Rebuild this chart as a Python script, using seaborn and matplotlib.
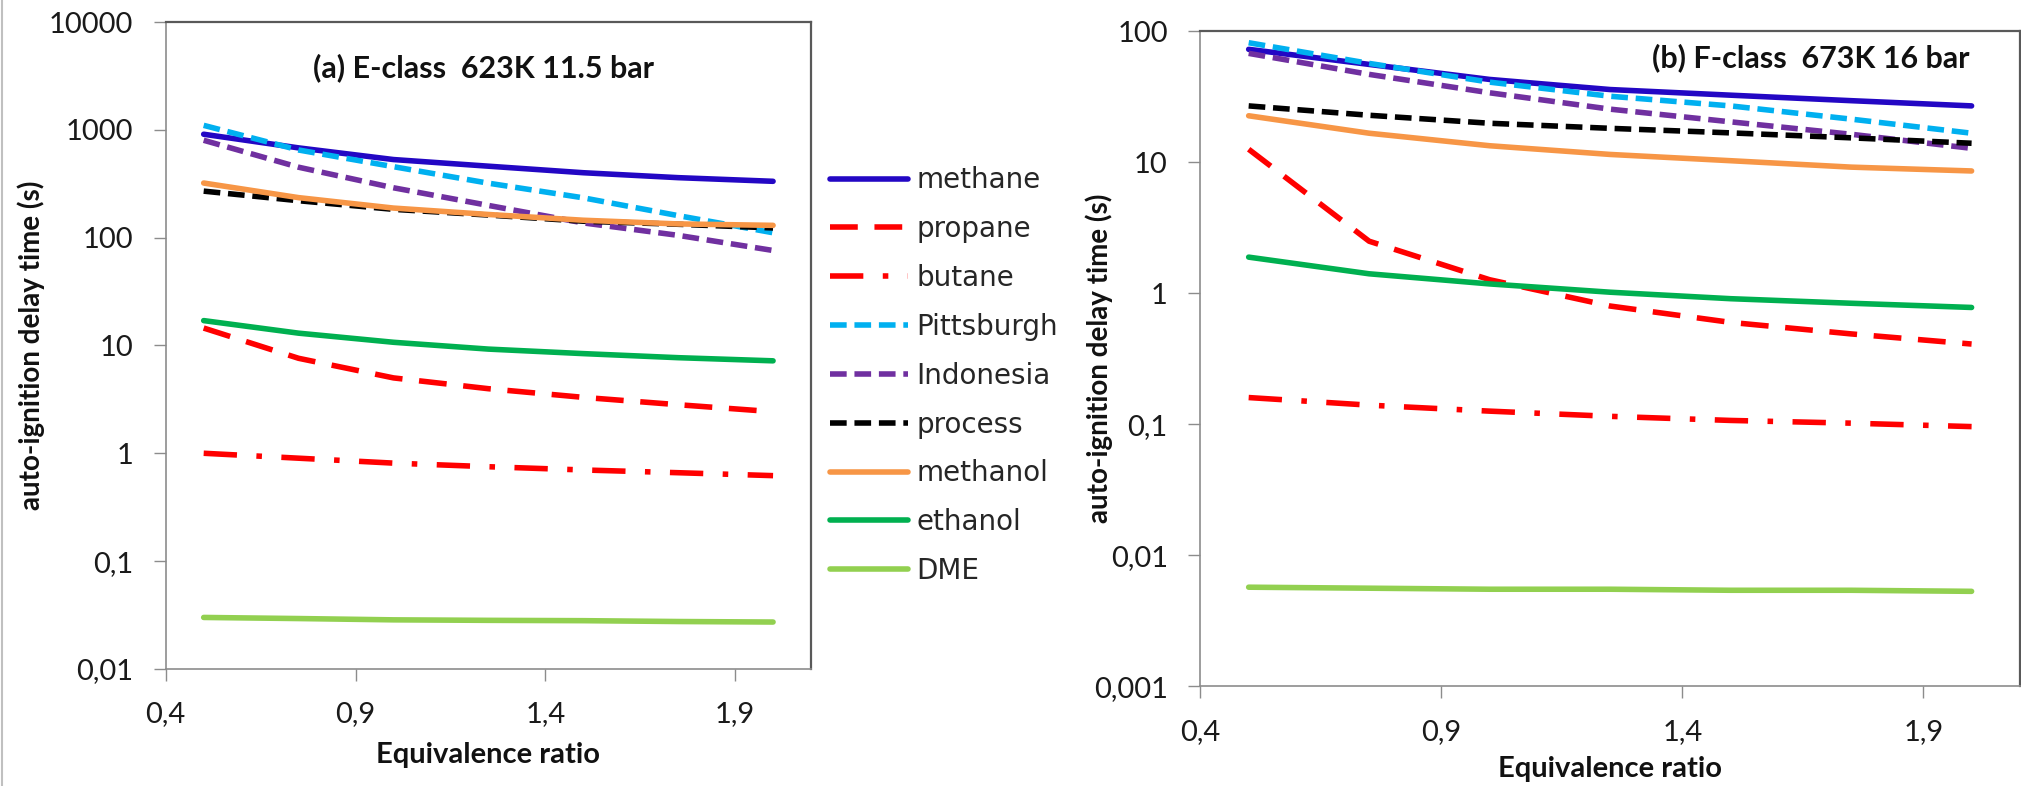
import numpy as np
import pandas as pd
import matplotlib
matplotlib.use("Agg")
import matplotlib.pyplot as plt
import seaborn as sns
from matplotlib.ticker import FixedLocator, FuncFormatter, NullLocator
from matplotlib.lines import Line2D

sns.set_theme(style="white")
plt.rcParams["font.family"] = ["Lato", "DejaVu Sans"]

# ── Data ──────────────────────────────────────────────────────────────────────
PHI = [0.5, 0.75, 1.0, 1.25, 1.5, 1.75, 2.0]
FUELS = ["methane", "propane", "butane", "Pittsburgh", "Indonesia",
         "process", "methanol", "ethanol", "DME"]

# (a) E-class 623 K, 11.5 bar
TAU_A = {
    "methane":    [910, 680, 530, 460, 400, 360, 333],
    "propane":    [14.5, 7.6, 5.0, 3.97, 3.3, 2.82, 2.43],
    "butane":     [1.0, 0.90, 0.81, 0.75, 0.70, 0.66, 0.62],
    "Pittsburgh": [1100, 650, 455, 320, 234, 160, 111],
    "Indonesia":  [800, 450, 290, 199, 137, 105, 76],
    "process":    [270, 220, 183, 162, 142, 133, 123],
    "methanol":   [321, 235, 188, 164, 145, 134, 130],
    "ethanol":    [17, 13, 10.7, 9.25, 8.4, 7.7, 7.2],
    "DME":        [0.030, 0.0293, 0.0285, 0.0282, 0.028, 0.0275, 0.0272],
}

# (b) F-class 673 K, 16 bar
TAU_B = {
    "methane":    [73, 56, 43, 36, 32.6, 29.6, 27],
    "propane":    [12.6, 2.5, 1.27, 0.80, 0.60, 0.49, 0.41],
    "butane":     [0.16, 0.14, 0.126, 0.115, 0.107, 0.102, 0.096],
    "Pittsburgh": [82, 57, 41, 32, 27, 21.4, 16.7],
    "Indonesia":  [68, 47, 34, 25.5, 20.4, 16.4, 12.8],
    "process":    [27, 22.9, 19.9, 18.2, 16.8, 15.4, 14],
    "methanol":   [22.7, 16.7, 13.4, 11.5, 10.3, 9.2, 8.6],
    "ethanol":    [1.89, 1.41, 1.18, 1.02, 0.91, 0.84, 0.78],
    "DME":        [0.0057, 0.0056, 0.0055, 0.0055, 0.0054, 0.0054, 0.0053],
}

COLORS = {
    "methane": "#2307c4", "propane": "#ff0000", "butane": "#ff0000",
    "Pittsburgh": "#00b0f0", "Indonesia": "#7030a0", "process": "#000000",
    "methanol": "#f79646", "ethanol": "#00b050", "DME": "#92d050",
}
DASHES = {
    "methane": None, "propane": (5, 3), "butane": (6, 3.5, 1, 3.5),
    "Pittsburgh": (3, 1.4), "Indonesia": (3, 1.4), "process": (3, 1.4),
    "methanol": None, "ethanol": None, "DME": None,
}

X_TICKS = [0.4, 0.9, 1.4, 1.9]
Y_TICKS_A = [0.01, 0.1, 1, 10, 100, 1000, 10000]
Y_TICKS_B = [0.001, 0.01, 0.1, 1, 10, 100]

GRAY = "#8c8c8c"
DARK = "#595959"


def comma(v, pos=None):
    return f"{v:g}".replace(".", ",")


def draw_panel(ax, tau, yticks, title, title_xy, title_ha):
    for fuel in FUELS:
        df = pd.DataFrame({"phi": PHI, "tau": tau[fuel]})
        sns.lineplot(data=df, x="phi", y="tau", ax=ax, color=COLORS[fuel],
                     lw=4.0, legend=False)
        line = ax.get_lines()[-1]
        if DASHES[fuel] is not None:
            line.set_dashes(DASHES[fuel])
        line.set_solid_capstyle("round")
    ax.set_yscale("log")
    ax.set_ylim(yticks[0], yticks[-1])
    ax.set_xlim(0.4, 2.1)
    ax.yaxis.set_major_locator(FixedLocator(yticks))
    ax.yaxis.set_minor_locator(NullLocator())
    ax.yaxis.set_major_formatter(FuncFormatter(comma))
    ax.xaxis.set_major_locator(FixedLocator(X_TICKS))
    ax.xaxis.set_major_formatter(FuncFormatter(comma))
    ax.tick_params(axis="both", which="major", direction="out", length=8.5,
                   width=1, color=GRAY, labelsize=21, labelcolor="#1a1a1a",
                   left=True, bottom=True, pad=15)
    for side in ("left", "bottom"):
        ax.spines[side].set_color(GRAY)
        ax.spines[side].set_linewidth(1.2)
    for side in ("top", "right"):
        ax.spines[side].set_color(DARK)
        ax.spines[side].set_linewidth(1.6)
    ax.set_xlabel("Equivalence ratio", fontsize=21, fontweight="bold",
                  color="#111111")
    ax.set_ylabel("auto-ignition delay time (s)", fontsize=20,
                  fontweight="bold", color="#111111")
    ax.xaxis.label.set_va("center")
    ax.yaxis.label.set_va("center")
    ax.text(title_xy[0], title_xy[1], title, transform=ax.transAxes,
            fontsize=22, fontweight="bold", ha=title_ha, va="center",
            color="#111111")


fig = plt.figure(figsize=(20.21, 7.86), dpi=100)
ax_a = fig.add_axes([0.082, 0.149, 0.3193, 0.823])
ax_b = fig.add_axes([0.594, 0.127, 0.4054, 0.833])

draw_panel(ax_a, TAU_A, Y_TICKS_A, "(a) E-class  623K 11.5 bar",
           (0.4925, 0.929), "center")
draw_panel(ax_b, TAU_B, Y_TICKS_B, "(b) F-class  673K 16 bar",
           (0.939, 0.96), "right")

ax_a.yaxis.set_label_coords(-0.209, 0.5)
ax_a.xaxis.set_label_coords(0.5, -0.133)
ax_b.yaxis.set_label_coords(-0.123, 0.5)
ax_b.xaxis.set_label_coords(0.5, -0.127)

fig.legend(handles=ax_a.get_lines()[:len(FUELS)], labels=FUELS,
           loc="center left", bbox_to_anchor=(0.4107, 0.522),
           frameon=False, handlelength=2.8, handletextpad=0.3,
           labelspacing=0.75, borderpad=0, borderaxespad=0,
           prop={"family": "DejaVu Sans", "size": 20})

# thin border of the original chart area on the far left
fig.add_artist(Line2D([0.0012, 0.0012], [0, 1], transform=fig.transFigure,
                      color="#c0c0c0", lw=1.5))

fig.savefig("out.png", dpi=100)
plt.close(fig)
